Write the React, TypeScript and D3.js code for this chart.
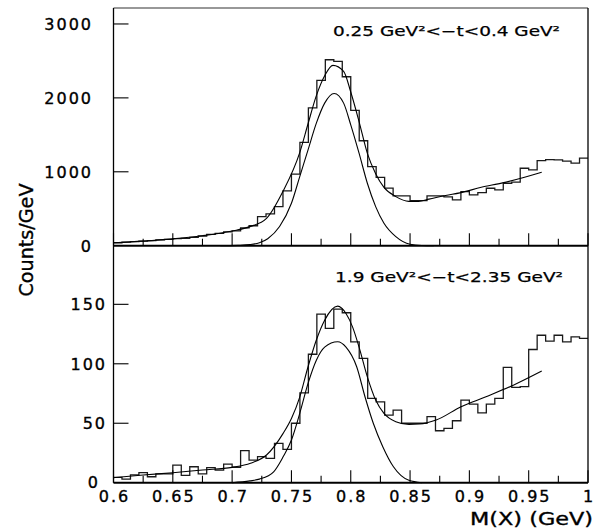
import React from 'react';
import * as d3 from 'd3';

// Histogram binning
const X_MIN = 0.6;
const X_MAX = 1.0;
const N_BINS = 56;

// Upper panel: 0.25 GeV² < -t < 0.4 GeV²
const topCounts = [
  40, 48, 55, 62, 70, 78, 85, 95, 100, 112, 131, 154, 168, 186,
  200, 240, 270, 393, 430, 530, 743, 968, 1398, 1866, 2236, 2516, 2493, 2286,
  1832, 1420, 1070, 925, 778, 675, 675, 610, 610, 673, 673, 660, 619, 732,
  687, 718, 777, 755, 845, 859, 1048, 1025, 1152, 1165, 1160, 1143, 1116, 1184,
];

const topTotalX = [0.6, 0.625, 0.65, 0.675, 0.7, 0.715, 0.729, 0.743, 0.757, 0.764, 0.771, 0.778, 0.785, 0.794, 0.8, 0.807, 0.814, 0.821, 0.828, 0.838, 0.849, 0.857, 0.866, 0.88, 0.892, 0.91, 0.928, 0.945, 0.961];
const topTotalY = [40, 62, 92, 135, 199, 258, 370, 740, 1260, 1650, 2030, 2300, 2440, 2360, 2080, 1680, 1250, 975, 790, 664, 600, 600, 630, 680, 715, 790, 850, 920, 994];

const topSignalX = [0.69, 0.705, 0.715, 0.723, 0.73, 0.74, 0.75, 0.757, 0.764, 0.771, 0.778, 0.786, 0.794, 0.8, 0.807, 0.814, 0.821, 0.828, 0.838, 0.85, 0.86, 0.87];
const topSignalY = [0, 5, 15, 40, 95, 260, 574, 935, 1297, 1658, 1929, 2060, 1929, 1635, 1252, 845, 529, 303, 122, 19, 3, 0];

// Lower panel: 1.9 GeV² < -t < 2.35 GeV²
const bottomCounts = [
  4.5, 3, 6.5, 8.5, 5, 7.5, 7.5, 14.8, 6.2, 13.4, 7.5, 12.6, 10.5, 15.7,
  13, 26.9, 19, 21.9, 20.5, 33, 28, 50, 75.6, 108, 141.8, 129.7, 146, 142.9,
  118.5, 104.5, 70.9, 68, 56.9, 61, 50, 50, 50, 55.5, 43.7, 45.7, 52.1, 69.5,
  66.1, 58.8, 66.1, 70.9, 97, 80.2, 80.8, 112, 124, 119, 124, 118.5, 122.7, 121.3,
];

const bottomTotalX = [0.6, 0.625, 0.65, 0.675, 0.7, 0.7155, 0.729, 0.743, 0.75, 0.757, 0.764, 0.771, 0.778, 0.789, 0.796, 0.8015, 0.807, 0.814, 0.821, 0.828, 0.838, 0.849, 0.858, 0.872, 0.893, 0.914, 0.937, 0.961];
const bottomTotalY = [4.2, 6.5, 8.4, 10.7, 12.9, 16.3, 23.3, 41.5, 54, 72, 97.5, 120, 136.7, 148.5, 142.3, 131, 114, 89, 69.5, 58.3, 51.3, 49, 49.3, 52.7, 63.9, 72.3, 82, 93.9];

const bottomSignalX = [0.7, 0.715, 0.723, 0.735, 0.743, 0.75, 0.757, 0.764, 0.771, 0.778, 0.789, 0.796, 0.805, 0.812, 0.819, 0.827, 0.836, 0.849, 0.86];
const bottomSignalY = [0, 1.5, 3, 9.2, 21.8, 35.9, 58.3, 83.5, 103, 114, 118.5, 114, 97.5, 72.3, 50, 30.3, 13.4, 2, 0];

// Axes
const xMajorTicks = [0.6, 0.65, 0.7, 0.75, 0.8, 0.85, 0.9, 0.95, 1.0];
const xMajorLabels = ['0.6', '0.65', '0.7', '0.75', '0.8', '0.85', '0.9', '0.95', '1'];
const xMinorTicks = [0.625, 0.675, 0.725, 0.775, 0.825, 0.875, 0.925, 0.975];
const topYTicks = [0, 1000, 2000, 3000];
const bottomYTicks = [0, 50, 100, 150];

const topLabel = '0.25 GeV\u00B2<\u2212t<0.4 GeV\u00B2';
const bottomLabel = '1.9 GeV\u00B2<\u2212t<2.35 GeV\u00B2';
const yTitle = 'Counts/GeV';
const xTitle = 'M(X) (GeV)';

const FONT = '"DejaVu Sans", Verdana, sans-serif';
const TXT = { fill: '#000', stroke: '#000', strokeWidth: 0.35 };

export default function App() {
  const W = 600;
  const H = 529;
  const L = 113.5;
  const R = 588;
  const T = 8;
  const M = 245.7;
  const B = 482.7;

  const x = d3.scaleLinear().domain([X_MIN, X_MAX]).range([L, R]);
  const yTop = d3.scaleLinear().domain([0, 3216]).range([M, T]);
  const yBot = d3.scaleLinear().domain([0, 199.3]).range([B, M]);
  const binW = (X_MAX - X_MIN) / N_BINS;

  const histPath = (counts: number[], y: d3.ScaleLinear<number, number>) => {
    let p = `M${x(X_MIN)},${y(counts[0])}`;
    counts.forEach((c, i) => {
      p += `H${x(X_MIN + (i + 1) * binW)}`;
      if (i < counts.length - 1) p += `V${y(counts[i + 1])}`;
    });
    return p;
  };

  const curve = (xs: number[], ys: number[], y: d3.ScaleLinear<number, number>) =>
    d3
      .line<number>()
      .x((d, i) => x(xs[i]))
      .y((d) => y(d))
      .curve(d3.curveMonotoneX)(ys) || '';

  const panels = [
    { y: yTop, base: M, counts: topCounts, tx: topTotalX, ty: topTotalY, sx: topSignalX, sy: topSignalY, yTicks: topYTicks, labelX: 93, label: topLabel, lx: 333, lw: 227, labelBase: 36 },
    { y: yBot, base: B, counts: bottomCounts, tx: bottomTotalX, ty: bottomTotalY, sx: bottomSignalX, sy: bottomSignalY, yTicks: bottomYTicks, labelX: 107, label: bottomLabel, lx: 335, lw: 228, labelBase: 282 },
  ];

  return (
    <svg width={W} height={H} style={{ position: 'absolute', left: 0, top: 0, background: '#fff' }} fontFamily={FONT}>
      <rect x={0} y={0} width={W} height={H} fill="#fff" />
      {panels.map((p, pi) => (
        <g key={pi}>
          <path d={histPath(p.counts, p.y)} fill="none" stroke="#1a1a1a" strokeWidth={1.3} />
          <path d={curve(p.tx, p.ty, p.y)} fill="none" stroke="#000" strokeWidth={1.1} />
          <path d={curve(p.sx, p.sy, p.y)} fill="none" stroke="#000" strokeWidth={1.1} />
          {xMajorTicks.map((t) => (
            <line key={'M' + t} x1={x(t)} x2={x(t)} y1={p.base} y2={p.base - 12.5} stroke="#000" strokeWidth={1.1} />
          ))}
          {xMinorTicks.map((t) => (
            <line key={'m' + t} x1={x(t)} x2={x(t)} y1={p.base} y2={p.base - 7} stroke="#000" strokeWidth={1.1} />
          ))}
          {p.yTicks.map((t) => (
            <g key={'y' + t}>
              {t > 0 && <line x1={L} x2={L + 15} y1={p.y(t)} y2={p.y(t)} stroke="#000" strokeWidth={1.1} />}
              <text
                x={pi === 1 && t === 0 ? 100 : p.labelX}
                y={pi === 1 && t === 0 ? 488 : p.y(t) + 5.9}
                textAnchor="end"
                fontSize={16}
                letterSpacing={2}
                {...TXT}
              >
                {String(t)}
              </text>
            </g>
          ))}
          <text x={p.lx} y={p.labelBase} fontSize={14} textLength={p.lw} lengthAdjust="spacingAndGlyphs" {...TXT} strokeWidth={0.25}>
            {p.label}
          </text>
        </g>
      ))}
      <line x1={L} x2={R} y1={T} y2={T} stroke="#333" strokeWidth={1.2} />
      <line x1={R} x2={R} y1={T} y2={B} stroke="#000" strokeWidth={1.3} />
      <line x1={L} x2={L} y1={T} y2={B} stroke="#000" strokeWidth={1.3} />
      <line x1={L} x2={R} y1={M} y2={M} stroke="#000" strokeWidth={2} />
      <line x1={L} x2={R} y1={B} y2={B} stroke="#000" strokeWidth={2} />
      {xMajorTicks.map((t, i) => (
        <text key={'xl' + t} x={x(t) + 1} y={502} textAnchor="middle" fontSize={16} letterSpacing={2} {...TXT}>
          {xMajorLabels[i]}
        </text>
      ))}
      <text x={470} y={524.5} fontSize={17} textLength={123} lengthAdjust="spacingAndGlyphs" {...TXT}>
        {xTitle}
      </text>
      <text
        transform={`translate(33,240) rotate(-90)`}
        x={0}
        y={0}
        textAnchor="middle"
        fontSize={19}
        textLength={113}
        lengthAdjust="spacingAndGlyphs"
        {...TXT}
      >
        {yTitle}
      </text>
    </svg>
  );
}
